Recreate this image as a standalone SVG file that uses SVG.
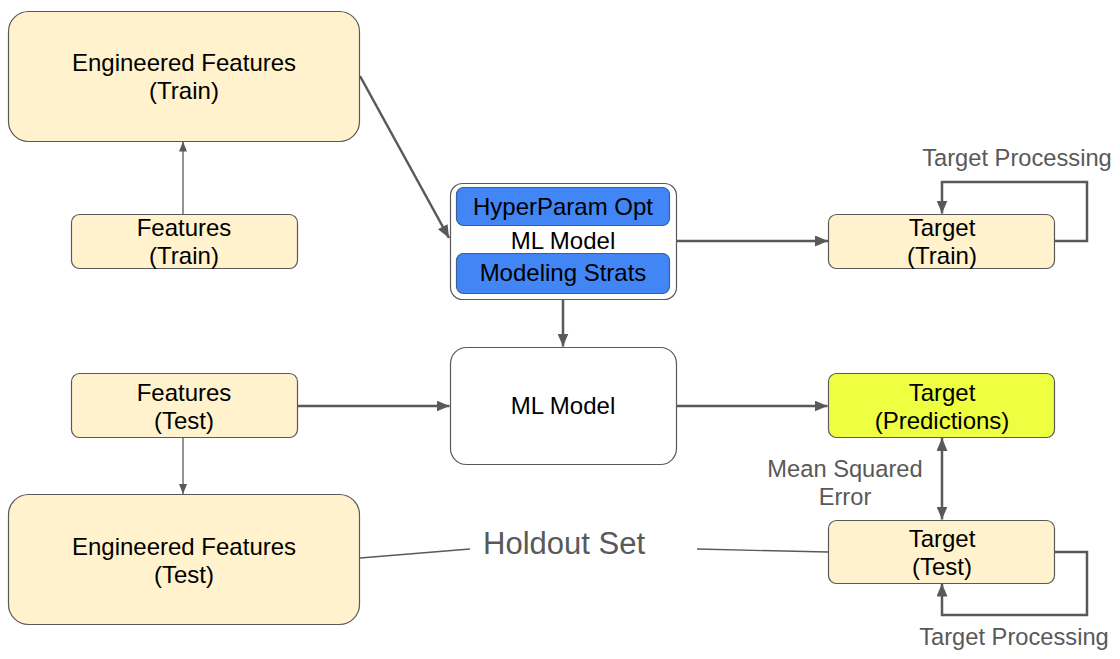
<svg xmlns="http://www.w3.org/2000/svg" width="1120" height="659" viewBox="0 0 1120 659">
<defs>
<style>
.box{fill:#fff2cc;stroke:#595959;stroke-width:1.2}
.wbox{fill:#ffffff;stroke:#595959;stroke-width:1.2}
.blue{fill:#4285f4;stroke:#3d5f99;stroke-width:1.2}
.yel{fill:#eeff41;stroke:#595959;stroke-width:1.2}
.t{font-family:"Liberation Sans",Arial,sans-serif;font-size:24px;fill:#000;text-anchor:middle}
.g{font-family:"Liberation Sans",Arial,sans-serif;font-size:23.7px;fill:#595959;text-anchor:middle}
.thick{stroke:#595959;stroke-width:2.5;fill:none}
.thin{stroke:#595959;stroke-width:1.3;fill:none}
</style>
<marker id="ah" markerWidth="13" markerHeight="11" refX="13" refY="5.5" orient="auto" markerUnits="userSpaceOnUse" viewBox="0 0 13 11">
<path d="M0,0 L13,5.5 L0,11 Z" fill="#595959"/>
</marker>
<marker id="ahb" markerWidth="13" markerHeight="11" refX="13" refY="5.5" orient="auto-start-reverse" markerUnits="userSpaceOnUse" viewBox="0 0 13 11">
<path d="M0,0 L13,5.5 L0,11 Z" fill="#595959"/>
</marker>
<marker id="ahs" markerWidth="10" markerHeight="8" refX="10" refY="4" orient="auto" markerUnits="userSpaceOnUse" viewBox="0 0 10 8">
<path d="M0,0 L10,4 L0,8 Z" fill="#595959"/>
</marker>
</defs>
<rect width="1120" height="659" fill="#ffffff"/>

<g id="connectors">
<line class="thin" x1="183" y1="214" x2="183" y2="141.5" marker-end="url(#ahs)"/>
<line class="thick" x1="360" y1="76" x2="449" y2="238" marker-end="url(#ah)"/>
<line class="thick" x1="677" y1="241" x2="828" y2="241" marker-end="url(#ah)"/>
<polyline class="thick" points="1055,241 1087,241 1087,182 942,182 942,213.5" marker-end="url(#ah)"/>
<line class="thick" x1="563" y1="299" x2="563" y2="346.5" marker-end="url(#ah)"/>
<line class="thick" x1="297" y1="406" x2="449.5" y2="406" marker-end="url(#ah)"/>
<line class="thick" x1="677" y1="406" x2="827.5" y2="406" marker-end="url(#ah)"/>
<line class="thin" x1="183" y1="437" x2="183" y2="494" marker-end="url(#ahs)"/>
<line class="thick" x1="942" y1="438" x2="942" y2="519.5" marker-start="url(#ahb)" marker-end="url(#ahb)"/>
<polyline class="thick" points="1055,552 1087,552 1087,615 942,615 942,583.5" marker-end="url(#ah)"/>
<line class="thin" x1="360" y1="558" x2="470" y2="549"/>
<line class="thin" x1="697" y1="549" x2="828" y2="552"/>
</g>

<g id="ef-train">
<rect class="box" x="8.5" y="11.5" width="351" height="130" rx="20"/>
<text class="t" x="184" y="71">Engineered Features</text>
<text class="t" x="184" y="99">(Train)</text>
</g>

<g id="features-train">
<rect class="box" x="71.5" y="214.5" width="226" height="54" rx="8"/>
<text class="t" x="184" y="236">Features</text>
<text class="t" x="184" y="264">(Train)</text>
</g>

<g id="ml-model-train">
<rect class="wbox" x="450.5" y="183.5" width="226" height="116" rx="12"/>
<rect class="blue" x="456.5" y="187.5" width="213" height="38" rx="7"/>
<text class="t" x="563" y="215">HyperParam Opt</text>
<text class="t" x="563" y="249">ML Model</text>
<rect class="blue" x="456.5" y="253.5" width="213" height="40" rx="7"/>
<text class="t" x="563" y="281">Modeling Strats</text>
</g>

<g id="target-train">
<rect class="box" x="828.5" y="214.5" width="226" height="54" rx="8"/>
<text class="t" x="942" y="236">Target</text>
<text class="t" x="942" y="264">(Train)</text>
</g>

<g id="tp-top">
<text class="g" x="1017" y="166">Target Processing</text>
</g>

<g id="ml-model">
<rect class="wbox" x="450.5" y="347.5" width="226" height="117" rx="16"/>
<text class="t" x="563" y="414">ML Model</text>
</g>

<g id="features-test">
<rect class="box" x="71.5" y="373.5" width="226" height="64" rx="8"/>
<text class="t" x="184" y="401">Features</text>
<text class="t" x="184" y="429">(Test)</text>
</g>

<g id="target-predictions">
<rect class="yel" x="828.5" y="373.5" width="226" height="64" rx="8"/>
<text class="t" x="942" y="401">Target</text>
<text class="t" x="942" y="429">(Predictions)</text>
</g>

<g id="mse">
<text class="g" x="845" y="477">Mean Squared</text>
<text class="g" x="845" y="505">Error</text>
</g>

<g id="ef-test">
<rect class="box" x="8.5" y="494.5" width="351" height="130" rx="20"/>
<text class="t" x="184" y="555">Engineered Features</text>
<text class="t" x="184" y="583">(Test)</text>
</g>

<g id="holdout">
<text class="g" x="564" y="554" style="font-size:31px">Holdout Set</text>
</g>

<g id="target-test">
<rect class="box" x="828.5" y="520.5" width="226" height="63" rx="8"/>
<text class="t" x="942" y="547">Target</text>
<text class="t" x="942" y="575">(Test)</text>
</g>

<g id="tp-bottom">
<text class="g" x="1014" y="645">Target Processing</text>
</g>
</svg>
